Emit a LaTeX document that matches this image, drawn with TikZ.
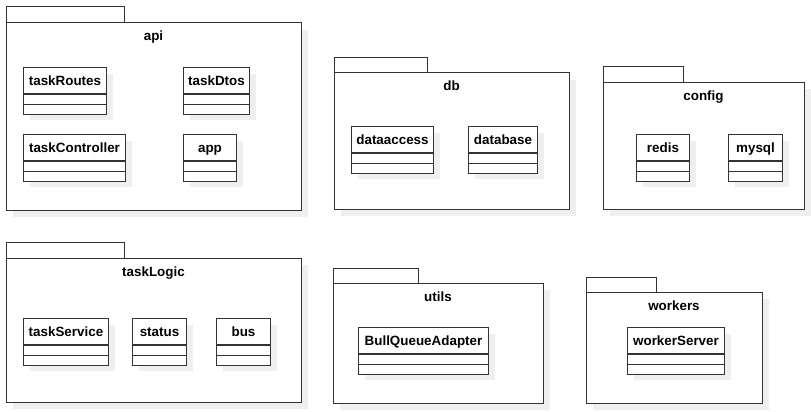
\documentclass[tikz,border=0pt]{standalone}
\usepackage{fontspec}
\setmainfont{Liberation Sans}
\definecolor{linegray}{HTML}{333333}
\definecolor{shadegray}{HTML}{EFEFEF}
\tikzset{umlline/.style={draw=linegray, line width=1pt}}
\tikzset{umlfont/.style={font=\bfseries\fontsize{13.4}{16}\selectfont, text height=11pt, text depth=2pt}}
\tikzset{classhead/.style={umlline, umlfont, fill=white, minimum height=26pt, inner sep=0pt, anchor=north west}}

% package: name, x1, tab top, tab right, body top, x2, bottom, title y, title
\newcommand{\umlpackage}[9]{
\fill[shadegray] (#2+7,#5+7) rectangle (#6+7,#7+7);
\draw[umlline, fill=white] (#2,#3) rectangle (#4,#5);
\draw[umlline, fill=white] (#2,#5) rectangle (#6,#7);
\node[umlfont, inner sep=0pt] (#1) at ({(#2+#6)/2},#8) {#9};
}

% class: name, x, y, width, label
\newcommand{\umlclass}[5]{
\fill[shadegray] (#2+7,#3+7) rectangle +(#4,46);
\node[classhead, minimum width=#4pt] (#1) at (#2,#3) {#5};
\draw[umlline, fill=white] (#1.south west) rectangle +(#4,10);
\draw[umlline, fill=white] ([yshift=-10pt]#1.south west) rectangle +(#4,10);
}

\begin{document}
\begin{tikzpicture}[x=1pt,y=-1pt]

\useasboundingbox (0,0) rectangle (811,412);

% packages
\umlpackage{api}{6}{7}{124}{23}{301}{210}{36.5}{api}
\umlpackage{db}{334}{58}{427}{73}{569}{209}{86.5}{db}
\umlpackage{config}{603}{67}{683}{82}{804}{209}{95.5}{config}
\umlpackage{taskLogic}{6}{242}{124}{258}{301}{402}{271.5}{taskLogic}
\umlpackage{utils}{333}{268}{418}{283}{543}{403}{296.5}{utils}
\umlpackage{workers}{586}{277}{656}{292}{762}{403}{305.5}{workers}

% classes
\umlclass{taskRoutes}{23}{67}{83}{taskRoutes}
\umlclass{taskDtos}{183}{67}{66}{taskDtos}
\umlclass{taskController}{23}{134}{102}{taskController}
\umlclass{app}{183}{134}{53}{app}

\umlclass{dataaccess}{351}{126}{82}{dataaccess}
\umlclass{database}{468}{126}{69}{database}

\umlclass{redis}{636}{134}{53}{redis}
\umlclass{mysql}{728}{134}{54}{mysql}

\umlclass{taskService}{23}{318}{85}{taskService}
\umlclass{status}{132}{318}{54}{status}
\umlclass{bus}{216}{318}{54}{bus}

\umlclass{bullQueueAdapter}{358}{327}{130}{BullQueueAdapter}

\umlclass{workerServer}{627}{327}{97}{workerServer}

\end{tikzpicture}
\end{document}
